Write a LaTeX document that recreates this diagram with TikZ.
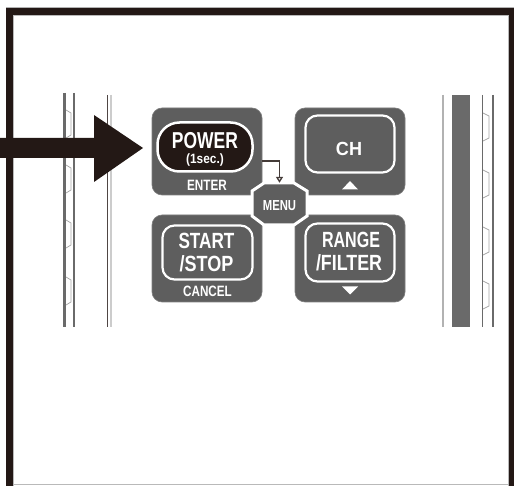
\documentclass[tikz,border=0pt]{standalone}
\usepackage{fontspec}
\usepackage{graphicx}
\setmainfont{Liberation Sans}
\usetikzlibrary{arrows.meta}
\definecolor{panel}{HTML}{5E5E5E}
\definecolor{ink}{HTML}{231815}
\definecolor{rail}{HTML}{6A6A6A}
\newcommand\btxt[3]{{\fontsize{#1}{#1}\selectfont\bfseries\scalebox{#2}[1]{#3}}}
\tikzset{
  panelbox/.style={fill=panel, draw=panel!80, line width=0.6, rounded corners=10, minimum width=110, minimum height=87, inner sep=0},
  innerbox/.style={draw=white, line width=2.2, rounded corners=12, inner sep=0},
  lbl/.style={text=white, inner sep=0, anchor=center},
  conn/.style={draw=ink!85, line width=1.3, -{Triangle[open, length=6, width=7, fill=white]}},
}
\begin{document}
\begin{tikzpicture}[x=1pt,y=-1pt]
\useasboundingbox (0,0) rectangle (514,486);
\fill[white] (0,0) rectangle (514,486);
% frame
\draw[gray!60, line width=0.8] (6,7.6) -- (514,7.6);
\fill[ink] (6,8) rectangle (13,486);
\fill[ink] (6,8) rectangle (514,15);
\fill[ink] (509,8) rectangle (514,486);
\draw[gray!55, line width=0.8] (13.5,486) -- (13.5,15.5) -- (508.5,15.5) -- (508.5,486);
\draw[gray!55, line width=0.9] (13.5,484.5) -- (508.5,484.5);

% left rails
\draw[rail, line width=3] (64.5,93) -- (64.5,327);
\draw[rail, line width=1.1] (74,93) -- (74,327);
\foreach \y in {110,165,220,277} {
  \draw[gray!70, line width=0.7] (66,\y) -- (71,\y+3) -- (71,\y+25) -- (66,\y+28);
}
\draw[ink!80, line width=1] (107,95) -- (107,327);
\draw[gray!40, line width=2] (111,95) -- (111,327);

% right rails
\draw[gray!60, line width=1.2] (443,95) -- (443,327);
\fill[rail] (452,95) rectangle (470,327);
\draw[rail, line width=1] (482.5,95) -- (482.5,327);
\draw[rail, line width=2.5] (493,95) -- (493,327);
\foreach \y in {113,170,227,281} {
  \draw[gray!70, line width=0.7] (483,\y) -- (489,\y+3) -- (489,\y+25) -- (483,\y+28);
}

% panels
\node[panelbox] (pwr) at (207,151.5) {};
\node[panelbox] (ch) at (350,151.5) {};
\node[panelbox] (ss) at (207,258.5) {};
\node[panelbox] (rng) at (350,258.5) {};

% POWER pill
\node[fill=ink, draw=white, line width=2.5, rounded corners=22, minimum width=95, minimum height=49, inner sep=0] (pill) at (205,147) {};
\node[lbl] (tpower) at (205,141) {\btxt{23}{0.76}{POWER}};
\node[lbl] (tsec) at (205,160.5) {\btxt{13.5}{0.88}{(1sec.)}};
\node[lbl] (tenter) at (207,185) {\btxt{15}{0.78}{ENTER}};

% CH
\node[innerbox, minimum width=89, minimum height=57] (chin) at (350,144) {};
\node[lbl] (tch) at (349,148.5) {\btxt{19}{0.95}{CH}};
\fill[white] (342,189.5) -- (358,189.5) -- (350,181) -- cycle;

% START/STOP
\node[innerbox, minimum width=90, minimum height=54] (ssin) at (207.5,252.5) {};
\node[lbl] (tstart) at (206.5,240.5) {\btxt{22}{0.78}{START}};
\node[lbl] (tstop) at (206.5,263.5) {\btxt{22}{0.82}{/STOP}};
\node[lbl] (tcancel) at (207.5,291) {\btxt{15}{0.78}{CANCEL}};

% RANGE/FILTER
\node[innerbox, minimum width=89, minimum height=58] (rngin) at (350,252.5) {};
\node[lbl] (trange) at (351,239.5) {\btxt{22}{0.73}{RANGE}};
\node[lbl] (tfilter) at (349,262.5) {\btxt{22}{0.81}{/FILTER}};
\fill[white] (342,286.5) -- (358,286.5) -- (350,294.5) -- cycle;

% MENU
\filldraw[fill=panel, draw=white, line width=3] (252,191) -- (264,183) -- (294,183) -- (307,191) -- (307,216) -- (294,225) -- (264,225) -- (252,216) -- cycle;
\node[inner sep=0, minimum width=55, minimum height=42] (menu) at (279.5,204) {};
\node[lbl] (tmenu) at (279.5,206) {\btxt{14.5}{0.78}{MENU}};

% connector
\coordinate (lvl) at (0,161);
\draw[conn] (pwr.east |- lvl) -| (menu.north);

% big arrow
\fill[ink] (0,138) -- (94,138) -- (94,115) -- (143,148) -- (94,182) -- (94,158) -- (0,158) -- cycle;
\end{tikzpicture}
\end{document}
